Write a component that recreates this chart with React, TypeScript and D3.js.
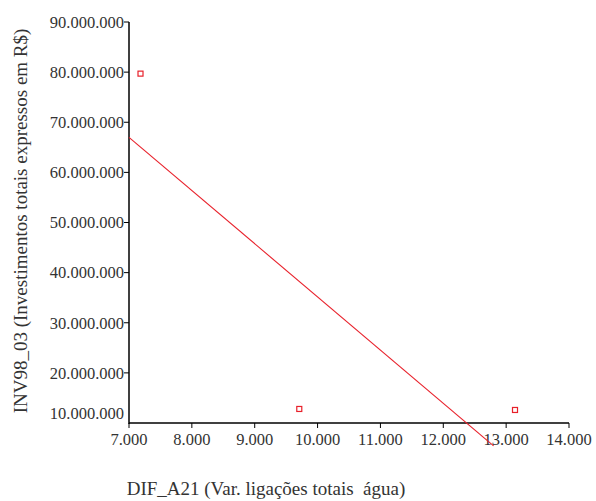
import React, { useEffect, useRef } from 'react';
import * as d3 from 'd3';

// observed points (DIF_A21, INV98_03)
const difA21 = [7183, 9709, 13141];
const inv98 = [79700000, 12800000, 12600000];

const xTicks = [7000, 8000, 9000, 10000, 11000, 12000, 13000, 14000];
const yTicks = [10000000, 20000000, 30000000, 40000000, 50000000, 60000000, 70000000, 80000000, 90000000];

// range over which the fitted line is drawn
const fitRange = [7000, 12800];

const xTitle = 'DIF_A21 (Var. ligações totais  água)';
const yTitle = 'INV98_03 (Investimentos totais expressos em R$)';

const App: React.FC = () => {
  const ref = useRef<SVGSVGElement>(null);

  useEffect(() => {
    if (!ref.current) return;
    const svg = d3.select(ref.current);
    svg.selectAll('*').remove();

    const font = '"Liberation Serif", "Times New Roman", serif';
    const textColor = '#333';
    const fmt = d3.formatLocale({ decimal: ',', thousands: '.', grouping: [3], currency: ['R$', ''] }).format(',d');

    const x = d3.scaleLinear().domain([7000, 14000]).range([129, 569]);
    const y = d3.scaleLinear().domain([10000000, 90000000]).range([423, 22]);

    // least squares fit
    const mx = d3.mean(difA21) || 0;
    const my = d3.mean(inv98) || 0;
    const sxy = d3.sum(difA21, (v, i) => (v - mx) * (inv98[i] - my));
    const sxx = d3.sum(difA21, v => (v - mx) * (v - mx));
    const slope = sxy / sxx;
    const fit = (v: number) => my + slope * (v - mx);

    // x axis
    const xAxis = svg.append('g').attr('transform', `translate(0,${y(10000000)})`);
    xAxis.append('line')
      .attr('x1', x(7000)).attr('x2', x(14000))
      .attr('stroke', '#000').attr('stroke-width', 1.5);
    xAxis.selectAll('.xt')
      .data(xTicks)
      .enter().append('line')
      .attr('x1', d => x(d)).attr('x2', d => x(d))
      .attr('y1', 0).attr('y2', 5)
      .attr('stroke', '#000').attr('stroke-width', 1);
    xAxis.selectAll('.xl')
      .data(xTicks)
      .enter().append('text')
      .attr('x', d => x(d))
      .attr('y', 22)
      .attr('text-anchor', 'middle')
      .attr('font-family', font)
      .attr('font-size', '16.5px')
      .attr('fill', textColor)
      .text(d => fmt(d));

    // y axis
    const yAxis = svg.append('g').attr('transform', `translate(${x(7000)},0)`);
    yAxis.append('line')
      .attr('y1', y(90000000)).attr('y2', y(10000000) + 1)
      .attr('stroke', '#000').attr('stroke-width', 1.5);
    yAxis.selectAll('.yt')
      .data(yTicks.slice(1))
      .enter().append('line')
      .attr('x1', -5).attr('x2', 0)
      .attr('y1', d => y(d)).attr('y2', d => y(d))
      .attr('stroke', '#000').attr('stroke-width', 1);
    yAxis.selectAll('.yl')
      .data(yTicks)
      .enter().append('text')
      .attr('x', -5)
      .attr('y', d => y(d) - (d === 10000000 ? 10 : 0))
      .attr('dy', '0.35em')
      .attr('text-anchor', 'end')
      .attr('font-family', font)
      .attr('font-size', '16.5px')
      .attr('fill', textColor)
      .text(d => fmt(d));

    // regression line
    svg.append('line')
      .attr('x1', x(fitRange[0])).attr('y1', y(fit(fitRange[0])))
      .attr('x2', x(fitRange[1])).attr('y2', y(fit(fitRange[1])))
      .attr('stroke', '#e8202a').attr('stroke-width', 1.1);

    // points
    svg.selectAll('.pt')
      .data(difA21)
      .enter().append('rect')
      .attr('x', d => x(d) - 2.5)
      .attr('y', (d, i) => y(inv98[i]) - 2.5)
      .attr('width', 5).attr('height', 5)
      .attr('fill', '#fff')
      .attr('stroke', '#e8202a').attr('stroke-width', 1.2);

    // titles
    svg.append('text')
      .attr('x', 266).attr('y', 495)
      .attr('text-anchor', 'middle')
      .attr('font-family', font)
      .attr('font-size', '19px')
      .attr('fill', textColor)
      .style('white-space', 'pre')
      .text(xTitle);

    svg.append('text')
      .attr('transform', 'translate(27,221) rotate(-90)')
      .attr('text-anchor', 'middle')
      .attr('font-family', font)
      .attr('font-size', '19px')
      .attr('fill', textColor)
      .text(yTitle);
  }, []);

  return (
    <svg ref={ref} width={596} height={501}
      style={{ position: 'absolute', left: 0, top: 0, background: '#fff' }} />
  );
};

export default App;
